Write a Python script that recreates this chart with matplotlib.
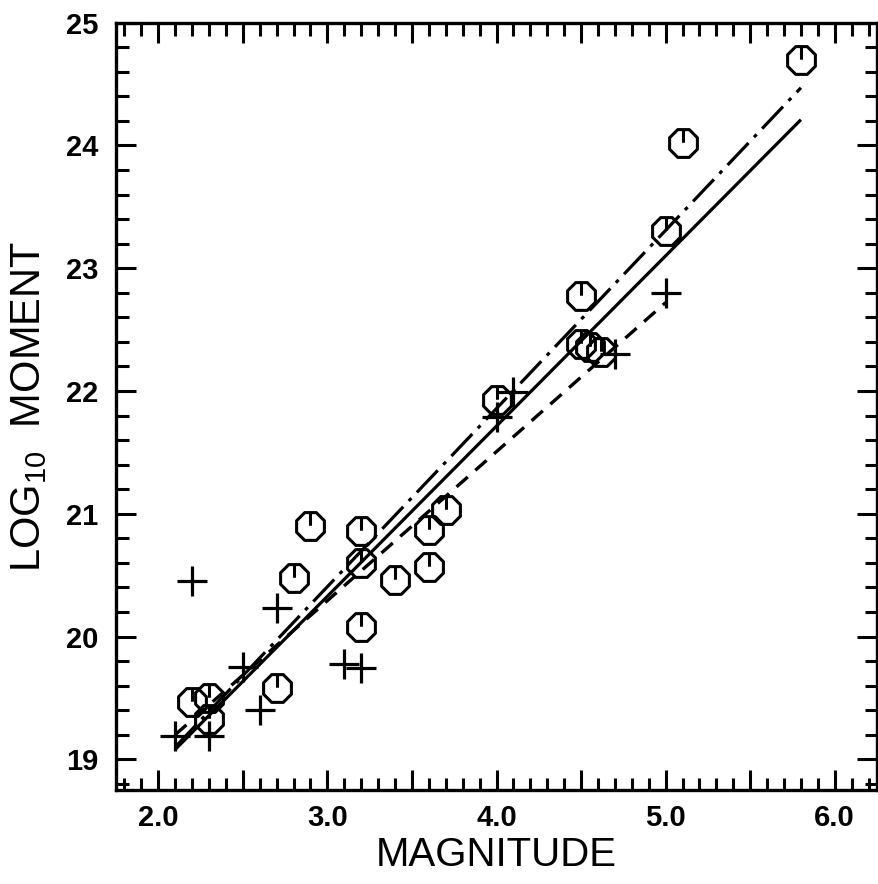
import numpy as np
import matplotlib
matplotlib.use("Agg")
import matplotlib.pyplot as plt
from matplotlib.path import Path
from matplotlib.ticker import MultipleLocator, FuncFormatter

# ---- data ----
circle_mag = [2.2, 2.3, 2.3, 2.7, 2.8, 2.9, 3.2, 3.2, 3.2, 3.4, 3.6, 3.6, 3.7,
              4.0, 4.5, 4.5, 4.55, 4.62, 5.0, 5.1, 5.8]
circle_mom = [19.47, 19.50, 19.33, 19.58, 20.48, 20.90, 20.86, 20.60, 20.08, 20.46,
              20.87, 20.57, 21.03, 21.93, 22.77, 22.38, 22.36, 22.32, 23.30, 24.02, 24.70]

plus_mag = [2.1, 2.2, 2.3, 2.5, 2.6, 2.7, 3.1, 3.2, 4.0, 4.1, 4.7, 5.0]
plus_mom = [19.19, 20.45, 19.19, 19.75, 19.40, 20.23, 19.78, 19.74, 21.79, 21.99, 22.30, 22.80]

solid_x = [2.1, 5.8]
solid_y = [19.08, 24.21]
longdash_x = [2.1, 5.8]
longdash_y = [19.10, 24.47]
shortdash_x = [2.1, 5.0]
shortdash_y = [19.20, 22.72]

x_label = "MAGNITUDE"
y_label = r"LOG$_{\mathregular{10}}$  MOMENT"

# ---- octagon marker with a tick from the top to the centre ----
ang = np.deg2rad(22.5 + 45 * np.arange(8))
verts = [(np.cos(a), np.sin(a)) for a in ang] + [(0, 0)]
codes = [Path.MOVETO] + [Path.LINETO] * 7 + [Path.CLOSEPOLY]
verts += [(0, np.sin(np.deg2rad(112.5))), (0, 0.05)]
codes += [Path.MOVETO, Path.LINETO]
oct_marker = Path(verts, codes)

fig = plt.figure(figsize=(8.79, 8.84), dpi=100)
ax = fig.add_axes([116 / 879, 1 - 790 / 884, (877 - 116) / 879, (790 - 22.7) / 884])

ax.plot(solid_x, solid_y, color="black", lw=2.3, solid_capstyle="butt")
ax.plot(longdash_x, longdash_y, color="black", lw=2.3, dashes=(9.5, 2.5, 1.2, 2.5))
ax.plot(shortdash_x, shortdash_y, color="black", lw=2.4, dashes=(4.5, 3.0))

ax.plot(circle_mag, circle_mom, linestyle="none", marker=oct_marker, markersize=20,
        mfc="none", mec="black", mew=2.2)
ax.plot(plus_mag, plus_mom, linestyle="none", marker="+", markersize=21,
        mec="black", mew=2.3)

ax.set_xlim(1.75, 6.25)
ax.set_ylim(18.75, 25.0)

ax.xaxis.set_major_locator(MultipleLocator(0.5))
ax.xaxis.set_minor_locator(MultipleLocator(0.1))
ax.xaxis.set_major_formatter(FuncFormatter(
    lambda v, p: f"{v:.1f}" if abs(v - round(v)) < 1e-6 else ""))
ax.yaxis.set_major_locator(MultipleLocator(1))
ax.yaxis.set_minor_locator(MultipleLocator(0.2))
ax.yaxis.set_major_formatter(FuncFormatter(lambda v, p: f"{v:.0f}"))

ax.tick_params(which="both", direction="in", top=True, right=True, width=2.2,
               color="black")
ax.tick_params(which="major", length=14.5)
ax.tick_params(which="minor", length=9)
ax.tick_params(axis="x", which="major", pad=10)
ax.tick_params(axis="y", which="major", pad=13)

for lab in ax.get_xticklabels() + ax.get_yticklabels():
    lab.set_fontfamily(["Liberation Sans", "DejaVu Sans"])
    lab.set_fontweight("bold")
    lab.set_fontsize(21)

for sp in ax.spines.values():
    sp.set_linewidth(2.4)

ax.set_xlabel(x_label, fontsize=29, family=["Liberation Sans Narrow", "Liberation Sans"])
ax.set_ylabel(y_label, fontsize=30, family=["Liberation Sans Narrow", "Liberation Sans"])
ax.xaxis.set_label_coords(0.5, -0.060)
ax.yaxis.set_label_coords(-0.088, 0.5)

fig.savefig("out.png", dpi=100, facecolor="white")
